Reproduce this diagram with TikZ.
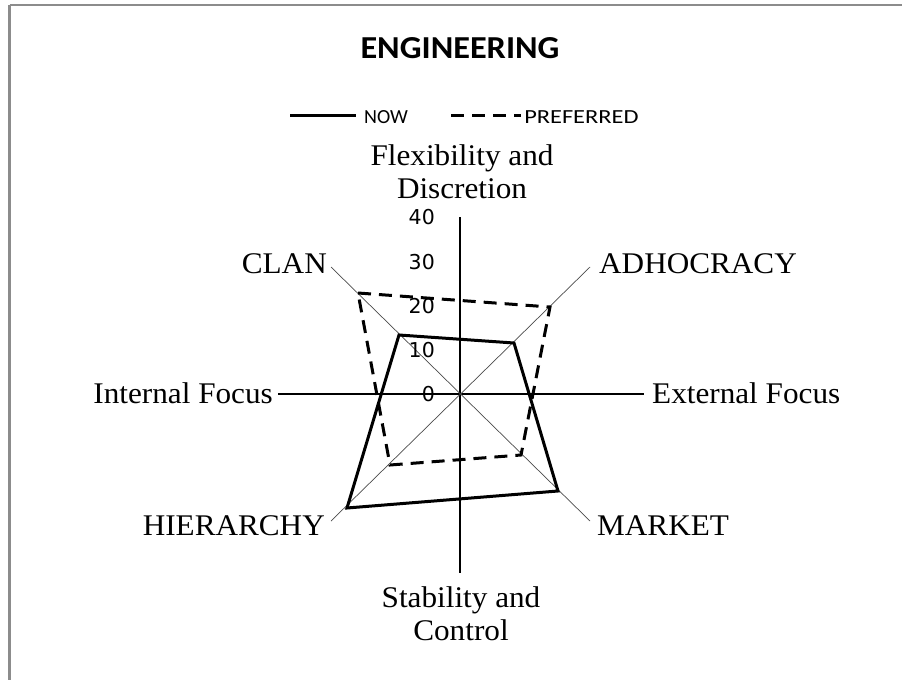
\documentclass[tikz,border=0pt]{standalone}
\usepackage{fontspec}
\setmainfont{Liberation Serif}
\newfontfamily\legendfont{Carlito}
\newfontfamily\tickfont{DejaVu Sans}
\begin{document}
\begin{tikzpicture}[x=1pt,y=-1pt,
  axislabel/.style={font=\fontsize{30}{33}\selectfont, inner sep=0pt, xscale=1.04},
  ticklabel/.style={font=\tickfont\fontsize{20.5}{20.5}\selectfont, anchor=east, inner sep=0pt},
  legendtext/.style={font=\legendfont\fontsize{20}{20}\selectfont, anchor=west, inner sep=0pt},
  nowline/.style={line width=3pt, line join=miter},
  prefline/.style={line width=3pt, dash pattern=on 13pt off 8pt},
  spoke/.style={line width=0.7pt, black!70},
  frameline/.style={draw=black!45},
]
\useasboundingbox (0,0) rectangle (902,680);
\fill[white] (0,0) rectangle (902,680);

% outer frame (top and left edges)
\coordinate (fTL) at (9.5,5);
\coordinate (fTR) at (902,5);
\coordinate (fBL) at (9.5,680);
\draw[frameline, line width=2pt] (fTL) -- (fTR);
\draw[frameline, line width=3pt] (fTL) -- (fBL);

% title and legend
\node[font=\legendfont\bfseries\fontsize{32}{32}\selectfont, xscale=1.07, inner sep=0pt] (title) at (460,48) {ENGINEERING};
\coordinate (lgA1) at (290,115);
\coordinate (lgA2) at (356,115);
\coordinate (lgB1) at (451,115);
\coordinate (lgB2) at (521,115);
\draw[line width=3pt] (lgA1) -- (lgA2);
\draw[line width=3pt, dash pattern=on 13pt off 8pt] (lgB1) -- (lgB2);
\node[legendtext] (lgnow) at (364,117) {NOW};
\node[legendtext, xscale=1.22] (lgpref) at (524,117) {PREFERRED};

% axes
\coordinate (O) at (460,394);
\coordinate (axT) at (460,217);
\coordinate (axB) at (460,573);
\coordinate (axL) at (278,394);
\coordinate (axR) at (644,394);
\draw[line width=1.2pt] (axT) -- (axB);
\draw[line width=2pt] (axL) -- (axR);

% diagonal spokes
\coordinate (dCL) at (331,267);
\coordinate (dAD) at (590,267);
\coordinate (dMK) at (590,521);
\coordinate (dHI) at (331,521);
\draw[spoke] (dCL) -- (dMK);
\draw[spoke] (dAD) -- (dHI);

% scale labels
\node[ticklabel] (t40) at (435,217) {40};
\node[ticklabel] (t30) at (435,262) {30};
\node[ticklabel] (t20) at (435,306) {20};
\node[ticklabel] (t10) at (435,350) {10};
\node[ticklabel] (t0)  at (435,394) {0};

% axis and quadrant labels
\node[axislabel, anchor=base] (flexA) at (462,165) {Flexibility and};
\node[axislabel, anchor=base] (flexB) at (462,198) {Discretion};
\node[axislabel, anchor=base] (stabA) at (461,607) {Stability and};
\node[axislabel, anchor=base] (stabB) at (461,640) {Control};
\node[axislabel, anchor=base east] (intf) at (273,403) {Internal Focus};
\node[axislabel, anchor=base west] (extf) at (652,403) {External Focus};
\node[axislabel, anchor=base east] (clan) at (327,273) {CLAN};
\node[axislabel, anchor=base west] (adho) at (599,273) {ADHOCRACY};
\node[axislabel, anchor=base east] (hier) at (325,535) {HIERARCHY};
\node[axislabel, anchor=base west] (mark) at (597,535) {MARKET};

% current profile
\coordinate (nCL) at (399,335);
\coordinate (nAD) at (514,343);
\coordinate (nMK) at (558,491);
\coordinate (nHI) at (347,508);
\draw[nowline] (nCL) -- (nAD) -- (nMK) -- (nHI) -- cycle;

% preferred profile
\coordinate (pCL) at (358,293);
\coordinate (pAD) at (550,307);
\coordinate (pMK) at (521,455);
\coordinate (pHI) at (390,465);
\draw[prefline] (pCL) -- (pAD) -- (pMK) -- (pHI) -- cycle;
\end{tikzpicture}
\end{document}
